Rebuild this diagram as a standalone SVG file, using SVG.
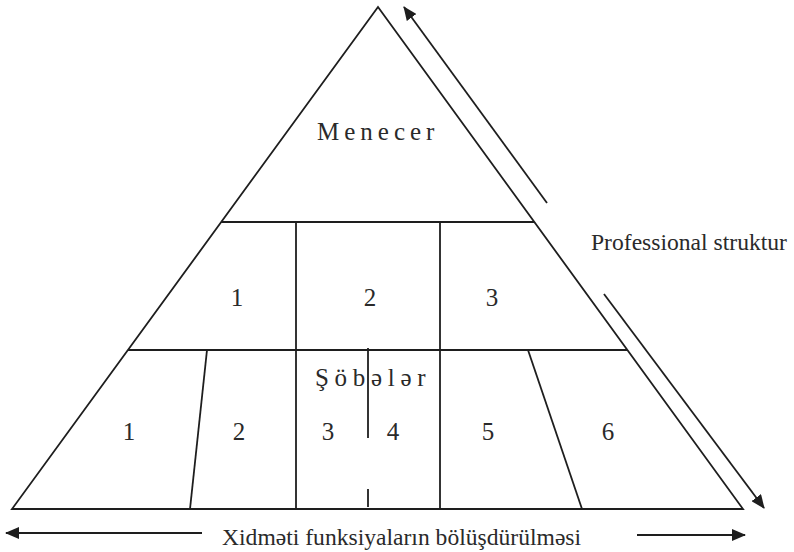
<svg xmlns="http://www.w3.org/2000/svg" width="794" height="552" viewBox="0 0 794 552">
<style>
.ln{stroke:#1e1e1e;stroke-width:1.8;fill:none}
.t{font-family:"Liberation Serif","Times New Roman",serif;font-size:25px;fill:#2a2a2a}
.n{text-anchor:middle}
.lb{font-size:23.6px}
</style>
<defs>
<marker id="ah" markerUnits="userSpaceOnUse" markerWidth="14" markerHeight="12" refX="13" refY="6" orient="auto">
<path d="M0,0 L14,6 L0,12 z" fill="#1e1e1e"/>
</marker>
</defs>
<rect width="794" height="552" fill="#fff"/>
<g id="pyramid">
<path class="ln" d="M378,7 L743,509 L12,509 Z"/>
<line class="ln" x1="221" y1="222" x2="534" y2="222"/>
<line class="ln" x1="128" y1="350" x2="627" y2="350"/>
</g>
<g id="manager">
<text class="t" x="317" y="140" style="letter-spacing:5px">Menecer</text>
</g>
<g id="level2">
<line class="ln" x1="296" y1="222" x2="296" y2="350"/>
<line class="ln" x1="440" y1="222" x2="440" y2="350"/>
<text class="t n" x="237" y="306">1</text>
<text class="t n" x="370" y="306">2</text>
<text class="t n" x="492" y="306">3</text>
</g>
<g id="level3">
<text class="t" x="315" y="386" style="letter-spacing:5.7px">Şöbələr</text>
<line class="ln" x1="207" y1="350" x2="190" y2="509"/>
<line class="ln" x1="296" y1="350" x2="296" y2="509"/>
<line class="ln" x1="440" y1="350" x2="440" y2="509"/>
<line class="ln" x1="528" y1="350" x2="582" y2="509"/>
<line class="ln" x1="368" y1="348" x2="368" y2="438"/>
<line class="ln" x1="368" y1="489" x2="368" y2="507"/>
<text class="t n" x="129" y="440">1</text>
<text class="t n" x="239" y="440">2</text>
<text class="t n" x="328" y="440">3</text>
<text class="t n" x="393" y="440">4</text>
<text class="t n" x="488" y="440">5</text>
<text class="t n" x="608" y="440">6</text>
</g>
<g id="connectors">
<line class="ln" x1="547" y1="203" x2="404" y2="7" marker-end="url(#ah)"/>
<line class="ln" x1="604" y1="294" x2="764" y2="508" marker-end="url(#ah)"/>
<line class="ln" x1="202" y1="533" x2="6" y2="533" marker-end="url(#ah)"/>
<line class="ln" x1="637" y1="535" x2="745" y2="535" marker-end="url(#ah)"/>
</g>
<g id="labels">
<text class="t lb" x="591" y="250">Professional struktur</text>
<text class="t lb" x="222" y="545">Xidməti funksiyaların bölüşdürülməsi</text>
</g>
</svg>
